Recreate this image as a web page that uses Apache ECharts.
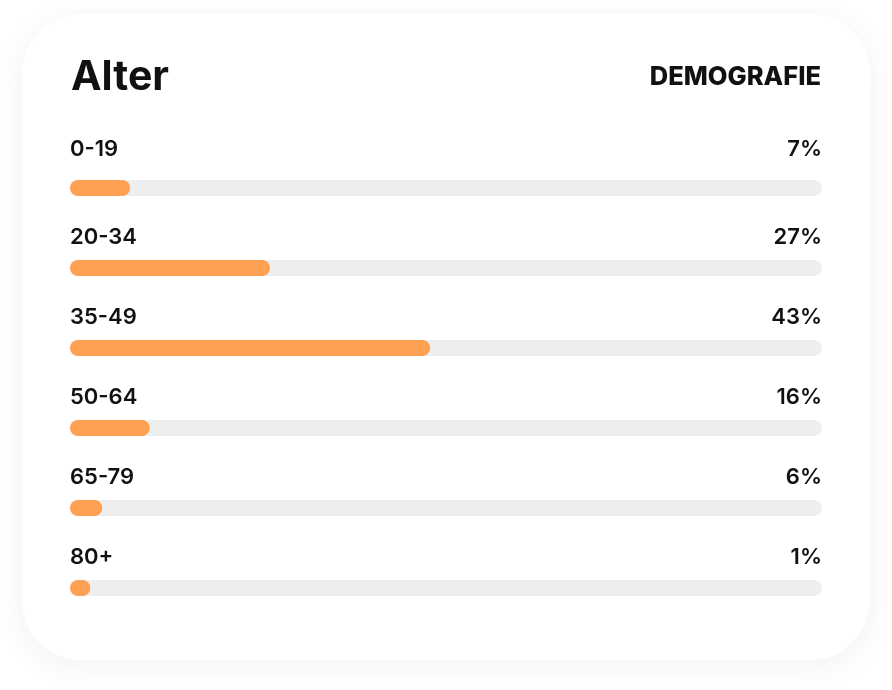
<!DOCTYPE html>
<html><head><meta charset="utf-8">
<script src="https://cdn.jsdelivr.net/npm/echarts@6/dist/echarts.min.js"></script>
<style>html,body{margin:0;padding:0;background:#fff;}#c{width:892px;height:690px;}</style>
</head><body><div id="c"></div>
<script>
const title = 'Alter';
const subtitle = 'DEMOGRAFIE';
const categories = ['0-19', '20-34', '35-49', '50-64', '65-79', '80+'];
const percentLabels = [7, 27, 43, 16, 6, 1];
// bar fill as share of the track
const barFill = [8, 26.6, 47.9, 10.6, 4.3, 2.7];
const trackValues = [100, 100, 100, 100, 100, 100];

const FONT = 'Inter';
const chart = echarts.init(document.getElementById('c'), null, {renderer: 'canvas'});
const labelOffsetY = categories.map((c, i) => i === 0 ? -40 : -32);

chart.setOption({
  backgroundColor: '#fff',
  animation: false,
  graphic: [{
    type: 'rect', z: -10,
    shape: {x: 22, y: 14, width: 848, height: 646, r: 60},
    style: {fill: '#fff', shadowBlur: 32, shadowColor: 'rgba(30,40,80,0.06)', shadowOffsetY: 6}
  }],
  title: [{
    text: title, left: 71, top: 57, padding: 0,
    textStyle: {fontFamily: FONT, fontSize: 41, fontWeight: 700, color: '#111', letterSpacing: -1}
  }, {
    text: subtitle, right: 71, top: 64, padding: 0,
    textStyle: {fontFamily: FONT, fontSize: 25.5, fontWeight: 800, color: '#111'}
  }],
  grid: {left: 70, right: 70, top: 148, bottom: 62},
  xAxis: {type: 'value', min: 0, max: 100, show: false},
  yAxis: {type: 'category', data: categories, inverse: true, show: false},
  series: [{
    type: 'bar', data: trackValues.map((v, i) => ({
      value: v,
      label: {offset: [-5, labelOffsetY[i] + 1]}
    })),
    barWidth: 16, barGap: '-100%', silent: true,
    itemStyle: {color: '#eeeeee', borderRadius: 8},
    label: {
      show: true, position: 'insideLeft',
      formatter: p => categories[p.dataIndex],
      fontFamily: FONT, fontSize: 22, fontWeight: 600, color: '#111'
    },
    z: 1
  }, {
    type: 'bar', data: barFill,
    barWidth: 16, barGap: '-100%', silent: true,
    itemStyle: {color: '#FFA052', borderRadius: 8},
    z: 2
  }, {
    type: 'bar', data: trackValues.map((v, i) => ({
      value: v,
      label: {offset: [5, labelOffsetY[i] + 1]}
    })),
    barWidth: 16, barGap: '-100%', silent: true,
    itemStyle: {color: 'rgba(0,0,0,0)'},
    label: {
      show: true, position: 'insideRight',
      formatter: p => percentLabels[p.dataIndex] + '%',
      fontFamily: FONT, fontSize: 22, fontWeight: 600, color: '#111'
    },
    z: 3
  }]
});
</script></body></html>
